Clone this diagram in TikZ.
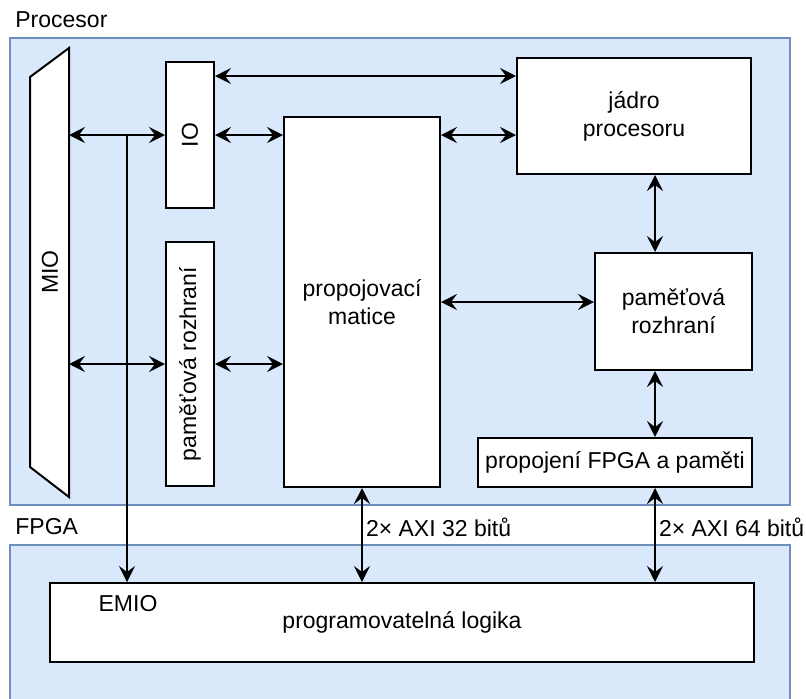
\documentclass[tikz,border=0pt]{standalone}
\usepackage{fontspec}
\setmainfont{Liberation Sans}
\usetikzlibrary{arrows.meta}

\definecolor{regionfill}{HTML}{DAE8FC}
\definecolor{regionline}{HTML}{6C8EBF}

\tikzset{
  region/.style={draw=regionline, fill=regionfill, line width=0.75pt},
  blok/.style={draw, fill=white, line width=1pt, align=center, inner sep=0pt},
  link/.style={line width=1pt},
  popis/.style={anchor=west, inner sep=0pt},
}

\begin{document}
\begin{tikzpicture}[x=0.5pt,y=-0.5pt,
  >={Stealth[length=8pt,width=8pt,inset=3pt]},
  font=\fontsize{11.5}{14}\selectfont]
\useasboundingbox (0,0) rectangle (806,698);

% oblasti
\draw[region] (10,38) rectangle (790,505);
\draw[region] (10,545) rectangle (790,720);
\node[popis] (procesor) at (15,20) {Procesor};
\node[popis] (fpga) at (15,527) {FPGA};

% MIO
\draw[link, fill=white] (30,77) -- (69,48) -- (69,497) -- (30,467) -- cycle;
\node (mio) at (50,272) {\rotatebox{90}{MIO}};
\coordinate (mioR) at (69,0);
\coordinate (emioX) at (127,0);
\coordinate (osa) at (655,0);

% bloky
\node[blok, minimum width=24pt, minimum height=73pt] (io) at (190,135) {\rotatebox{90}{IO}};
\node[blok, minimum width=24pt, minimum height=122pt] (pamL) at (190,364) {\rotatebox{90}{paměťová rozhraní}};
\node[blok, minimum width=78pt, minimum height=185pt] (matice) at (362,302) {propojovací\\matice};
\node[blok, minimum width=117pt, minimum height=58pt] (jadro) at (634,116) {jádro\\procesoru};
\node[blok, minimum width=78.5pt, minimum height=58.5pt] (pamR) at (673.5,311.5) {paměťová\\rozhraní};
\node[blok, minimum width=137pt, minimum height=24.5pt] (prop) at (615,462.5) {propojení FPGA a paměti};
\node[blok, minimum width=352pt, minimum height=39.5pt] (logika) at (402,622.5) {\raisebox{-2pt}{programovatelná logika}};
\node (emio) at (128,604) {EMIO};

% spoje
\draw[link, <->] (mioR |- io) -- (io.west);
\draw[link, <->] (mioR |- pamL) -- (pamL.west);
\draw[link, ->] (emioX |- io) -- (emioX |- logika.north);
\draw[link, <->] (io.east) -- (io.east -| matice.west);
\draw[link, <->] (pamL.east) -- (pamL.east -| matice.west);
\draw[link, <->] ([yshift=-7.5pt]io.north east) -- ([yshift=-7.5pt]io.north east -| jadro.west);
\draw[link, <->] (io.east -| matice.east) -- (io.east -| jadro.west);
\draw[link, <->] (matice.east) -- (matice.east -| pamR.west);
\draw[link, <->] (osa |- jadro.south) -- (osa |- pamR.north);
\draw[link, <->] (osa |- pamR.south) -- (osa |- prop.north);
\draw[link, <->] (matice.south) -- node[right, pos=0.42, inner sep=1.5pt] {2× AXI 32 bitů} (matice.south |- logika.north);
\draw[link, <->] (osa |- prop.south) -- node[right, pos=0.42, inner sep=1.5pt] {2× AXI 64 bitů} (osa |- logika.north);

\end{tikzpicture}
\end{document}
